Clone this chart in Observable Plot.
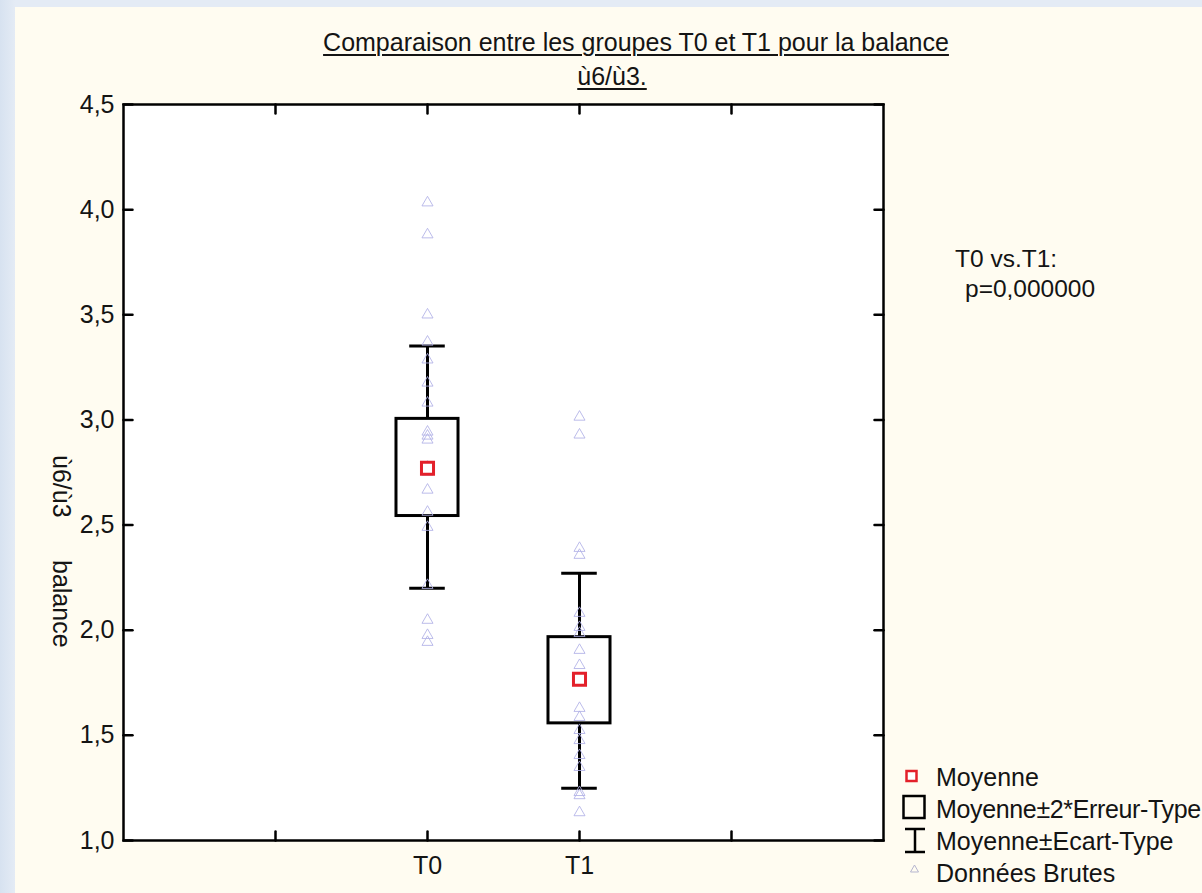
<!DOCTYPE html>
<html><head><meta charset="utf-8">
<script src="https://cdn.jsdelivr.net/npm/d3@7"></script>
<script src="https://cdn.jsdelivr.net/npm/@observablehq/plot@0.6"></script>
<style>
html,body{margin:0;padding:0;}
body{width:1202px;height:893px;overflow:hidden;background:linear-gradient(90deg,#d7e2f0 0,#e4ebf5 15px);position:relative;font-family:"Liberation Sans",Arial,sans-serif;color:#141414;}
#panel{position:absolute;left:15px;top:7px;right:0;bottom:0;background:#fffcf1;}
#chart{position:absolute;left:0;top:0;}
.t{position:absolute;white-space:pre;line-height:1;}
.title{font-size:25px;text-decoration:underline;text-decoration-thickness:1.5px;text-underline-offset:3px;transform:translateX(-50%);}
.ann{font-size:24.5px;}
.leg{font-size:25px;left:936px;}
.ylab{font-size:25px;transform-origin:0 0;transform:rotate(90deg);}
svg.ico{position:absolute;overflow:visible;}
</style></head><body>
<div id="panel"></div>
<div id="chart"></div>
<div class="t title" style="left:636px;top:30px;">Comparaison entre les groupes T0 et T1 pour la balance</div>
<div class="t title" style="left:612px;top:64px;">ù6/ù3.</div>
<div class="t ann" style="left:955px;top:247px;">T0 vs.T1:</div>
<div class="t ann" style="left:965px;top:277px;">p=0,000000</div>
<div class="t ylab" style="left:74px;top:455px;">ù6/ù3</div>
<div class="t ylab" style="left:74px;top:560px;">balance</div>
<svg class="ico" style="left:0;top:0;" width="1202" height="893">
  <rect x="906.5" y="771" width="10" height="10" fill="white" stroke="#e3202a" stroke-width="2.5"/>
  <rect x="903.5" y="796" width="21" height="22" fill="none" stroke="#000" stroke-width="2.5"/>
  <path d="M905,829H925M915,829V852M905,852H925" fill="none" stroke="#000" stroke-width="2.5"/>
  <path d="M914.5,865L918.5,872H910.5Z" fill="none" stroke="#b5b5cf" stroke-width="1"/>
</svg>
<div class="t leg" style="top:765px;">Moyenne</div>
<div class="t leg" style="top:797px;letter-spacing:-0.35px;">Moyenne±2*Erreur-Type</div>
<div class="t leg" style="top:829px;">Moyenne±Ecart-Type</div>
<div class="t leg" style="top:861px;">Données Brutes</div>
<script>
// ---- data ----
const yTicks = [1.0, 1.5, 2.0, 2.5, 3.0, 3.5, 4.0, 4.5];
const xTicks = [1, 2, 3, 4];
const xTickLabels = ["", "T0", "T1", ""];
const groups = ["T0", "T1"];
const means = [2.77, 1.767];
const boxLow = [2.543, 1.557];     // Moyenne - 2*Erreur-Type
const boxHigh = [3.005, 1.967];    // Moyenne + 2*Erreur-Type
const whiskerLow = [2.2, 1.248];   // Moyenne - Ecart-Type
const whiskerHigh = [3.352, 2.271];// Moyenne + Ecart-Type
const rawT0 = [4.033, 3.881, 3.500, 3.371, 3.286, 3.176, 3.081, 2.943, 2.924, 2.905,
               2.776, 2.752, 2.667, 2.562, 2.490, 2.214, 2.048, 1.976, 1.943];
const rawT1 = [3.014, 2.929, 2.390, 2.357, 2.081, 2.014, 1.986, 1.905, 1.833, 1.629,
               1.586, 1.524, 1.476, 1.405, 1.348, 1.229, 1.214, 1.133];

// ---- build ----
const pos = g => xTicks[xTickLabels.indexOf(g)];
const stats = groups.map((g, i) => ({
  group: g, x: pos(g), mean: means[i], lo: boxLow[i], hi: boxHigh[i],
  wlo: whiskerLow[i], whi: whiskerHigh[i]
}));
const raw = [
  ...rawT0.map(v => ({group: "T0", x: pos("T0"), v})),
  ...rawT1.map(v => ({group: "T1", x: pos("T1"), v}))
];
const boxHalf = 0.204, capHalf = 0.117;
const tickShape = {draw(context, l) { context.moveTo(0, 0); context.lineTo(0, -l); }};
const tickOpts = {length: 9, anchor: "start", shape: tickShape, stroke: "black", strokeWidth: 2.5};

const chart = Plot.plot({
  width: 1202, height: 893,
  marginLeft: 123, marginRight: 319, marginTop: 104, marginBottom: 53,
  style: {background: "transparent", fontFamily: "'Liberation Sans', Arial, sans-serif", fontSize: "25px", color: "#141414"},
  x: {type: "linear", domain: [0, 5], ticks: xTicks, tickFormat: d => xTickLabels[xTicks.indexOf(d)] ?? "", tickSize: 0, tickPadding: 16, label: null},
  y: {domain: [1, 4.5], ticks: yTicks, tickFormat: d => d.toFixed(1).replace(".", ","), tickSize: 0, tickPadding: 9, label: null},
  marks: [
    Plot.frame({fill: "white", stroke: null}),
    Plot.ruleX(stats, {x: "x", y1: "wlo", y2: "whi", stroke: "black", strokeWidth: 3}),
    Plot.rect(stats, {x1: d => d.x - boxHalf, x2: d => d.x + boxHalf, y1: "lo", y2: "hi", fill: "white", stroke: "black", strokeWidth: 3}),
    Plot.ruleY(stats, {x1: d => d.x - capHalf, x2: d => d.x + capHalf, y: "whi", stroke: "black", strokeWidth: 3}),
    Plot.ruleY(stats, {x1: d => d.x - capHalf, x2: d => d.x + capHalf, y: "wlo", stroke: "black", strokeWidth: 3}),
    Plot.dot(raw, {x: "x", y: "v", symbol: "triangle", r: 4.1, stroke: "#b0b0e6", strokeWidth: 1, fill: "none", strokeOpacity: 0.85}),
    Plot.dot(stats, {x: "x", y: "mean", symbol: "square", r: 6.8, stroke: "#e3202a", strokeWidth: 3, fill: "white"}),
    Plot.vector(yTicks, {y: d => d, frameAnchor: "left", rotate: 90, ...tickOpts}),
    Plot.vector(yTicks, {y: d => d, frameAnchor: "right", rotate: -90, ...tickOpts}),
    Plot.vector(xTicks, {x: d => d, frameAnchor: "bottom", rotate: 0, ...tickOpts}),
    Plot.vector(xTicks, {x: d => d, frameAnchor: "top", rotate: 180, ...tickOpts}),
    Plot.frame({stroke: "black", strokeWidth: 2.5})
  ]
});
document.getElementById("chart").append(chart);
</script>
</body></html>
